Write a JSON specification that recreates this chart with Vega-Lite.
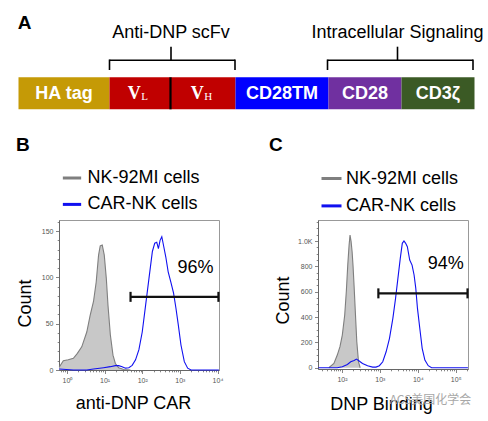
{
  "$schema": "https://vega.github.io/schema/vega-lite/v6.json",
  "background": "white",
  "padding": {"left": 15, "top": 0, "right": 0, "bottom": 0},
  "bounds": "flush",
  "spacing": 110,
  "config": {
    "font": "Liberation Sans",
    "view": {"stroke": null},
    "axis": {"labelFont": "Liberation Sans", "titleFont": "Liberation Sans"},
    "title": {"font": "Liberation Sans"}
  },
  "resolve": {"scale": {"color": "independent", "x": "independent", "y": "independent"}},
  "datasets": {
    "segments": [
      {"seg": "HA tag", "start": 0, "end": 91, "mid": 45.5, "main": "HA tag", "sub": ""},
      {"seg": "VL", "start": 91, "end": 152, "mid": 121.5, "main": "V", "sub": "L"},
      {"seg": "VH", "start": 152, "end": 217, "mid": 184.5, "main": "V", "sub": "H"},
      {"seg": "CD28TM", "start": 217, "end": 310, "mid": 263.5, "main": "CD28TM", "sub": ""},
      {"seg": "CD28", "start": 310, "end": 383, "mid": 346.5, "main": "CD28", "sub": ""},
      {"seg": "CD3ζ", "start": 383, "end": 456, "mid": 419.5, "main": "CD3ζ", "sub": ""}
    ],
    "brackets": [
      {"label": "Anti-DNP scFv", "start": 91, "end": 216.5, "center": 152.5},
      {"label": "Intracellular Signaling", "start": 309, "end": 454.5, "center": 379}
    ],
    "histB": [
      {"series": "NK-92MI cells", "x": 0.62, "count": 3},
      {"series": "NK-92MI cells", "x": 0.8, "count": 10},
      {"series": "NK-92MI cells", "x": 1.08, "count": 11},
      {"series": "NK-92MI cells", "x": 1.48, "count": 12.6},
      {"series": "NK-92MI cells", "x": 1.89, "count": 18},
      {"series": "NK-92MI cells", "x": 2.47, "count": 25},
      {"series": "NK-92MI cells", "x": 3.36, "count": 41},
      {"series": "NK-92MI cells", "x": 4.13, "count": 59},
      {"series": "NK-92MI cells", "x": 5.07, "count": 74},
      {"series": "NK-92MI cells", "x": 5.98, "count": 95},
      {"series": "NK-92MI cells", "x": 6.91, "count": 124},
      {"series": "NK-92MI cells", "x": 7.65, "count": 134},
      {"series": "NK-92MI cells", "x": 8.66, "count": 135},
      {"series": "NK-92MI cells", "x": 9.8, "count": 124},
      {"series": "NK-92MI cells", "x": 11.1, "count": 99},
      {"series": "NK-92MI cells", "x": 12.3, "count": 70},
      {"series": "NK-92MI cells", "x": 14.2, "count": 38},
      {"series": "NK-92MI cells", "x": 16.7, "count": 16},
      {"series": "NK-92MI cells", "x": 19.3, "count": 7},
      {"series": "NK-92MI cells", "x": 23.7, "count": 2.5},
      {"series": "NK-92MI cells", "x": 32.3, "count": 0.5},
      {"series": "NK-92MI cells", "x": 48.7, "count": 0},
      {"series": "CAR-NK cells", "x": 0.62, "count": 1},
      {"series": "CAR-NK cells", "x": 1.48, "count": 0},
      {"series": "CAR-NK cells", "x": 3.36, "count": 0},
      {"series": "CAR-NK cells", "x": 5.07, "count": 1},
      {"series": "CAR-NK cells", "x": 9.4, "count": 2.5},
      {"series": "CAR-NK cells", "x": 14.2, "count": 3.6},
      {"series": "CAR-NK cells", "x": 19.3, "count": 4.7},
      {"series": "CAR-NK cells", "x": 23.7, "count": 4.7},
      {"series": "CAR-NK cells", "x": 29.2, "count": 3.6},
      {"series": "CAR-NK cells", "x": 35.8, "count": 2},
      {"series": "CAR-NK cells", "x": 44, "count": 2.5},
      {"series": "CAR-NK cells", "x": 54, "count": 5},
      {"series": "CAR-NK cells", "x": 66.4, "count": 11},
      {"series": "CAR-NK cells", "x": 81.6, "count": 22},
      {"series": "CAR-NK cells", "x": 100, "count": 41},
      {"series": "CAR-NK cells", "x": 123, "count": 70},
      {"series": "CAR-NK cells", "x": 151, "count": 99},
      {"series": "CAR-NK cells", "x": 186, "count": 128},
      {"series": "CAR-NK cells", "x": 215, "count": 137},
      {"series": "CAR-NK cells", "x": 243, "count": 138},
      {"series": "CAR-NK cells", "x": 269, "count": 131},
      {"series": "CAR-NK cells", "x": 298, "count": 140},
      {"series": "CAR-NK cells", "x": 331, "count": 144},
      {"series": "CAR-NK cells", "x": 366, "count": 135},
      {"series": "CAR-NK cells", "x": 423, "count": 122},
      {"series": "CAR-NK cells", "x": 489, "count": 106},
      {"series": "CAR-NK cells", "x": 576, "count": 95},
      {"series": "CAR-NK cells", "x": 680, "count": 83},
      {"series": "CAR-NK cells", "x": 785, "count": 67},
      {"series": "CAR-NK cells", "x": 906, "count": 49},
      {"series": "CAR-NK cells", "x": 1069, "count": 27},
      {"series": "CAR-NK cells", "x": 1313, "count": 9},
      {"series": "CAR-NK cells", "x": 1611, "count": 2},
      {"series": "CAR-NK cells", "x": 1981, "count": 0},
      {"series": "CAR-NK cells", "x": 10900, "count": 0}
    ],
    "histC": [
      {"series": "NK-92MI cells", "x": 45, "count": 0},
      {"series": "NK-92MI cells", "x": 61.2, "count": 34},
      {"series": "NK-92MI cells", "x": 75.2, "count": 100},
      {"series": "NK-92MI cells", "x": 88.5, "count": 166},
      {"series": "NK-92MI cells", "x": 102, "count": 258},
      {"series": "NK-92MI cells", "x": 118, "count": 416},
      {"series": "NK-92MI cells", "x": 130, "count": 600},
      {"series": "NK-92MI cells", "x": 142, "count": 810},
      {"series": "NK-92MI cells", "x": 154, "count": 968},
      {"series": "NK-92MI cells", "x": 163, "count": 1047},
      {"series": "NK-92MI cells", "x": 174, "count": 995},
      {"series": "NK-92MI cells", "x": 185, "count": 916},
      {"series": "NK-92MI cells", "x": 196, "count": 800},
      {"series": "NK-92MI cells", "x": 209, "count": 640},
      {"series": "NK-92MI cells", "x": 227, "count": 416},
      {"series": "NK-92MI cells", "x": 246, "count": 205},
      {"series": "NK-92MI cells", "x": 273, "count": 47},
      {"series": "NK-92MI cells", "x": 302, "count": 0},
      {"series": "CAR-NK cells", "x": 24, "count": 0},
      {"series": "CAR-NK cells", "x": 75, "count": 0},
      {"series": "CAR-NK cells", "x": 102, "count": 8},
      {"series": "CAR-NK cells", "x": 139, "count": 26},
      {"series": "CAR-NK cells", "x": 170, "count": 47},
      {"series": "CAR-NK cells", "x": 209, "count": 58},
      {"series": "CAR-NK cells", "x": 241, "count": 68},
      {"series": "CAR-NK cells", "x": 284, "count": 53},
      {"series": "CAR-NK cells", "x": 348, "count": 34},
      {"series": "CAR-NK cells", "x": 473, "count": 16},
      {"series": "CAR-NK cells", "x": 644, "count": 5},
      {"series": "CAR-NK cells", "x": 790, "count": 5},
      {"series": "CAR-NK cells", "x": 970, "count": 16},
      {"series": "CAR-NK cells", "x": 1190, "count": 47},
      {"series": "CAR-NK cells", "x": 1460, "count": 126},
      {"series": "CAR-NK cells", "x": 1792, "count": 232},
      {"series": "CAR-NK cells", "x": 2198, "count": 390},
      {"series": "CAR-NK cells", "x": 2590, "count": 547},
      {"series": "CAR-NK cells", "x": 2987, "count": 705},
      {"series": "CAR-NK cells", "x": 3450, "count": 863},
      {"series": "CAR-NK cells", "x": 3900, "count": 982},
      {"series": "CAR-NK cells", "x": 4317, "count": 1000},
      {"series": "CAR-NK cells", "x": 4786, "count": 982},
      {"series": "CAR-NK cells", "x": 5300, "count": 955},
      {"series": "CAR-NK cells", "x": 6120, "count": 850},
      {"series": "CAR-NK cells", "x": 7060, "count": 810},
      {"series": "CAR-NK cells", "x": 7980, "count": 732},
      {"series": "CAR-NK cells", "x": 8850, "count": 626},
      {"series": "CAR-NK cells", "x": 9800, "count": 468},
      {"series": "CAR-NK cells", "x": 11300, "count": 310},
      {"series": "CAR-NK cells", "x": 13050, "count": 153},
      {"series": "CAR-NK cells", "x": 15380, "count": 60},
      {"series": "CAR-NK cells", "x": 18850, "count": 16},
      {"series": "CAR-NK cells", "x": 23130, "count": 0},
      {"series": "CAR-NK cells", "x": 210000, "count": 0}
    ],
    "gateB": [{"x": 48.9, "x_hi": 10600, "count": 79}],
    "pctB": [{"pct": "96%", "x": 2590, "count": 110}],
    "gateC": [{"x": 912, "x_hi": 205000, "count": 587}],
    "pctC": [{"pct": "94%", "x": 55000, "count": 816}],
    "markC": [{"wm": "ACS美国化学会", "x": 21600, "count": -255}]
  },
  "vconcat": [
    {
      "width": 408,
      "height": 110,
      "view": {"stroke": null},
      "layer": [
        {
          "data": {"name": "segments"},
          "mark": {"type": "rect"},
          "encoding": {
            "x": {"field": "start", "type": "quantitative", "scale": {"domain": [40.5, 448.5], "nice": false, "zero": false}, "axis": null},
            "x2": {"field": "end"},
            "y": {"datum": 77.3, "type": "quantitative", "scale": {"domain": [0, 110], "reverse": true, "nice": false, "zero": false}, "axis": null},
            "y2": {"datum": 109.3},
            "color": {"field": "seg", "type": "nominal", "legend": null,
              "scale": {"domain": ["HA tag", "VL", "VH", "CD28TM", "CD28", "CD3ζ"], "range": ["#c59a06", "#c00000", "#c00000", "#0000ff", "#7030a0", "#3b5a25"]}}
          }
        },
        {
          "data": {"name": "segments"},
          "transform": [{"filter": "datum.seg === 'VL'"}],
          "mark": {"type": "rule", "color": "#000", "strokeWidth": 2.2},
          "encoding": {
            "x": {"field": "end", "type": "quantitative", "axis": null},
            "y": {"datum": 77.3, "type": "quantitative", "axis": null},
            "y2": {"datum": 109.3}
          }
        },
        {
          "data": {"name": "segments"},
          "transform": [{"filter": "datum.sub === ''"}],
          "mark": {"type": "text", "color": "white", "fontWeight": "bold", "fontSize": 18, "baseline": "alphabetic", "align": "center"},
          "encoding": {
            "x": {"field": "mid", "type": "quantitative", "axis": null},
            "y": {"datum": 98.5, "type": "quantitative", "axis": null},
            "text": {"field": "main"}
          }
        },
        {
          "data": {"name": "segments"},
          "transform": [{"filter": "datum.sub !== ''"}],
          "mark": {"type": "text", "color": "white", "font": "Liberation Serif", "fontWeight": "bold", "fontSize": 18, "baseline": "alphabetic", "align": "center", "dx": -5.7},
          "encoding": {
            "x": {"field": "mid", "type": "quantitative", "axis": null},
            "y": {"datum": 98.5, "type": "quantitative", "axis": null},
            "text": {"field": "main"}
          }
        },
        {
          "data": {"name": "segments"},
          "transform": [{"filter": "datum.sub !== ''"}],
          "mark": {"type": "text", "color": "white", "font": "Liberation Serif", "fontSize": 11, "baseline": "alphabetic", "align": "left", "dx": 1.2},
          "encoding": {
            "x": {"field": "mid", "type": "quantitative", "axis": null},
            "y": {"datum": 100.3, "type": "quantitative", "axis": null},
            "text": {"field": "sub"}
          }
        },
        {
          "data": {"name": "brackets"},
          "mark": {"type": "rule", "color": "#000", "strokeWidth": 1.6},
          "encoding": {
            "x": {"field": "start", "type": "quantitative", "axis": null},
            "x2": {"field": "end"},
            "y": {"datum": 60.3, "type": "quantitative", "axis": null}
          }
        },
        {
          "data": {"name": "brackets"},
          "transform": [{"fold": ["start", "end"], "as": ["side", "pos"]}],
          "mark": {"type": "rule", "color": "#000", "strokeWidth": 1.6},
          "encoding": {
            "x": {"field": "pos", "type": "quantitative", "axis": null},
            "y": {"datum": 59.5, "type": "quantitative", "axis": null},
            "y2": {"datum": 70}
          }
        },
        {
          "data": {"name": "brackets"},
          "mark": {"type": "rule", "color": "#000", "strokeWidth": 1.6},
          "encoding": {
            "x": {"field": "center", "type": "quantitative", "axis": null},
            "y": {"datum": 46.7, "type": "quantitative", "axis": null},
            "y2": {"datum": 60.3}
          }
        },
        {
          "data": {"name": "brackets"},
          "mark": {"type": "text", "color": "#000", "fontSize": 18, "baseline": "alphabetic", "align": "center"},
          "encoding": {
            "x": {"field": "center", "type": "quantitative", "axis": null},
            "y": {"datum": 38.3, "type": "quantitative", "axis": null},
            "text": {"field": "label"}
          }
        },
        {
          "data": {"values": [{"panel": "A"}]},
          "mark": {"type": "text", "color": "#000", "fontSize": 19, "fontWeight": "bold", "baseline": "alphabetic", "align": "center"},
          "encoding": {
            "x": {"datum": 6, "type": "quantitative", "axis": null},
            "y": {"datum": 29.3, "type": "quantitative", "axis": null},
            "text": {"field": "panel"}
          }
        }
      ]
    },
    {
      "hconcat": [
        {
          "width": 160,
          "height": 150,
          "view": {"stroke": "#999"},
          "title": {"text": "B", "anchor": "start", "frame": "group", "dx": -43, "offset": 12, "fontSize": 19, "fontWeight": "bold", "color": "#000"},
          "encoding": {
            "x": {"field": "x", "type": "quantitative", "title": "anti-DNP CAR",
              "scale": {"type": "log", "domain": [0.614, 10960], "nice": false},
              "axis": {
                "values": [0.7, 0.8, 0.9, 1, 2, 3, 4, 5, 6, 7, 8, 9, 10, 20, 30, 40, 50, 60, 70, 80, 90, 100, 200, 300, 400, 500, 600, 700, 800, 900, 1000, 2000, 3000, 4000, 5000, 6000, 7000, 8000, 9000, 10000],
                "labelExpr": "datum.value == 1 ? '10⁰' : datum.value == 10 ? '10¹' : datum.value == 100 ? '10²' : datum.value == 1000 ? '10³' : datum.value == 10000 ? '10⁴' : ''",
                "tickSize": {"condition": {"test": "indexof([1,10,100,1000,10000], datum.value) >= 0", "value": 3.5}, "value": 1.8},
                "labelFontSize": 7, "labelColor": "#555", "labelPadding": 2.7,
                "tickColor": "#666", "tickWidth": 0.8, "domainColor": "#666", "grid": false,
                "labelOverlap": false, "labelFlush": false, "labelBound": false,
                "titleFontSize": 18, "titleFontWeight": "normal", "titleColor": "#000",
                "titleX": 74, "titleY": 24.3
              }},
            "y": {"field": "count", "type": "quantitative", "title": "Count",
              "scale": {"domain": [0, 162], "nice": false, "zero": false},
              "axis": {
                "values": [0, 10, 20, 30, 40, 50, 60, 70, 80, 90, 100, 110, 120, 130, 140, 150, 160],
                "labelExpr": "datum.value == 0 ? '0' : datum.value == 50 ? '50' : datum.value == 100 ? '100' : datum.value == 150 ? '150' : ''",
                "tickSize": {"condition": {"test": "indexof([0,50,100,150], datum.value) >= 0", "value": 3.5}, "value": 1.8},
                "labelFontSize": 7, "labelColor": "#555", "labelPadding": 2.5,
                "tickColor": "#666", "tickWidth": 0.8, "domainColor": "#666", "grid": false,
                "labelOverlap": false,
                "titleFontSize": 18, "titleFontWeight": "normal", "titleColor": "#000",
                "titleX": -24.3, "titleY": 83
              }}
          },
          "layer": [
            {
              "data": {"name": "histB"},
              "transform": [{"filter": "datum.series === 'NK-92MI cells'"}],
              "mark": {"type": "area", "color": "#c8c8c8"},
              "encoding": {}
            },
            {
              "data": {"name": "histB"},
              "mark": {"type": "line", "strokeWidth": 1.1},
              "encoding": {
                "color": {"field": "series", "type": "nominal",
                  "scale": {"domain": ["NK-92MI cells", "CAR-NK cells"], "range": ["#7f7f7f", "#1010f0"]},
                  "legend": {"orient": "none", "legendX": 2, "legendY": -53, "title": null, "symbolType": "stroke", "symbolSize": 335, "symbolStrokeWidth": 3,
                    "labelFontSize": 18, "labelFont": "Liberation Sans", "labelColor": "#000", "rowPadding": 6.4, "labelOffset": 4.5, "padding": 0, "labelLimit": 300}}
              }
            },
            {
              "data": {"name": "gateB"},
              "mark": {"type": "rule", "color": "#111", "strokeWidth": 2.2},
              "encoding": {"x2": {"field": "x_hi"}}
            },
            {
              "data": {"name": "gateB"},
              "transform": [{"fold": ["x", "x_hi"], "as": ["side", "x"]}],
              "mark": {"type": "tick", "orient": "vertical", "size": 10, "thickness": 2.2, "color": "#111", "opacity": 1},
              "encoding": {}
            },
            {
              "data": {"name": "pctB"},
              "mark": {"type": "text", "fontSize": 18, "color": "#000", "baseline": "middle", "align": "center"},
              "encoding": {"text": {"field": "pct"}}
            }
          ]
        },
        {
          "width": 150,
          "height": 149,
          "view": {"stroke": "#999"},
          "title": {"text": "C", "anchor": "start", "frame": "group", "dx": -49, "offset": 12, "fontSize": 19, "fontWeight": "bold", "color": "#000"},
          "encoding": {
            "x": {"field": "x", "type": "quantitative", "title": "DNP Binding",
              "scale": {"type": "log", "domain": [23.3, 211000], "nice": false},
              "axis": {
                "values": [30, 40, 50, 60, 70, 80, 90, 100, 200, 300, 400, 500, 600, 700, 800, 900, 1000, 2000, 3000, 4000, 5000, 6000, 7000, 8000, 9000, 10000, 20000, 30000, 40000, 50000, 60000, 70000, 80000, 90000, 100000, 200000],
                "labelExpr": "datum.value == 100 ? '10²' : datum.value == 1000 ? '10³' : datum.value == 10000 ? '10⁴' : datum.value == 100000 ? '10⁵' : ''",
                "tickSize": {"condition": {"test": "indexof([100,1000,10000,100000], datum.value) >= 0", "value": 3.5}, "value": 1.8},
                "labelFontSize": 7, "labelColor": "#555", "labelPadding": 2.7,
                "tickColor": "#666", "tickWidth": 0.8, "domainColor": "#666", "grid": false,
                "labelOverlap": false, "labelFlush": false, "labelBound": false,
                "titleFontSize": 18, "titleFontWeight": "normal", "titleColor": "#000",
                "titleX": 63, "titleY": 26.7
              }},
            "y": {"field": "count", "type": "quantitative", "title": "Count",
              "scale": {"domain": [-10, 1166], "nice": false, "zero": false},
              "axis": {
                "values": [0, 50, 100, 150, 200, 250, 300, 350, 400, 450, 500, 550, 600, 650, 700, 750, 800, 850, 900, 950, 1000, 1050, 1100, 1150],
                "labelExpr": "datum.value == 0 ? '0' : datum.value == 200 ? '200' : datum.value == 400 ? '400' : datum.value == 600 ? '600' : datum.value == 800 ? '800' : datum.value == 1000 ? '1.0K' : ''",
                "tickSize": {"condition": {"test": "indexof([0,200,400,600,800,1000], datum.value) >= 0", "value": 3.5}, "value": 1.8},
                "labelFontSize": 7, "labelColor": "#555", "labelPadding": 2.5,
                "tickColor": "#666", "tickWidth": 0.8, "domainColor": "#666", "grid": false,
                "labelOverlap": false,
                "titleFontSize": 18, "titleFontWeight": "normal", "titleColor": "#000",
                "titleX": -26, "titleY": 80
              }}
          },
          "layer": [
            {
              "data": {"name": "histC"},
              "transform": [{"filter": "datum.series === 'NK-92MI cells'"}],
              "mark": {"type": "area", "color": "#c8c8c8"},
              "encoding": {}
            },
            {
              "data": {"name": "histC"},
              "mark": {"type": "line", "strokeWidth": 1.1},
              "encoding": {
                "color": {"field": "series", "type": "nominal",
                  "scale": {"domain": ["NK-92MI cells", "CAR-NK cells"], "range": ["#7f7f7f", "#1010f0"]},
                  "legend": {"orient": "none", "legendX": 2, "legendY": -53, "title": null, "symbolType": "stroke", "symbolSize": 400, "symbolStrokeWidth": 3,
                    "labelFontSize": 18, "labelFont": "Liberation Sans", "labelColor": "#000", "rowPadding": 6.4, "labelOffset": 3, "padding": 0, "labelLimit": 300}}
              }
            },
            {
              "data": {"name": "gateC"},
              "mark": {"type": "rule", "color": "#111", "strokeWidth": 2.2},
              "encoding": {"x2": {"field": "x_hi"}}
            },
            {
              "data": {"name": "gateC"},
              "transform": [{"fold": ["x", "x_hi"], "as": ["side", "x"]}],
              "mark": {"type": "tick", "orient": "vertical", "size": 10, "thickness": 2.2, "color": "#111", "opacity": 1},
              "encoding": {}
            },
            {
              "data": {"name": "pctC"},
              "mark": {"type": "text", "fontSize": 18, "color": "#000", "baseline": "middle", "align": "center"},
              "encoding": {"text": {"field": "pct"}}
            },
            {
              "data": {"name": "markC"},
              "mark": {"type": "text", "fontSize": 12, "font": "Noto Sans CJK SC", "color": "#a8a8a8", "baseline": "middle", "align": "center"},
              "encoding": {"text": {"field": "wm"}}
            }
          ]
        }
      ],
      "spacing": 99,
      "bounds": "flush",
      "resolve": {"scale": {"color": "independent", "x": "independent", "y": "independent"}}
    }
  ]
}
